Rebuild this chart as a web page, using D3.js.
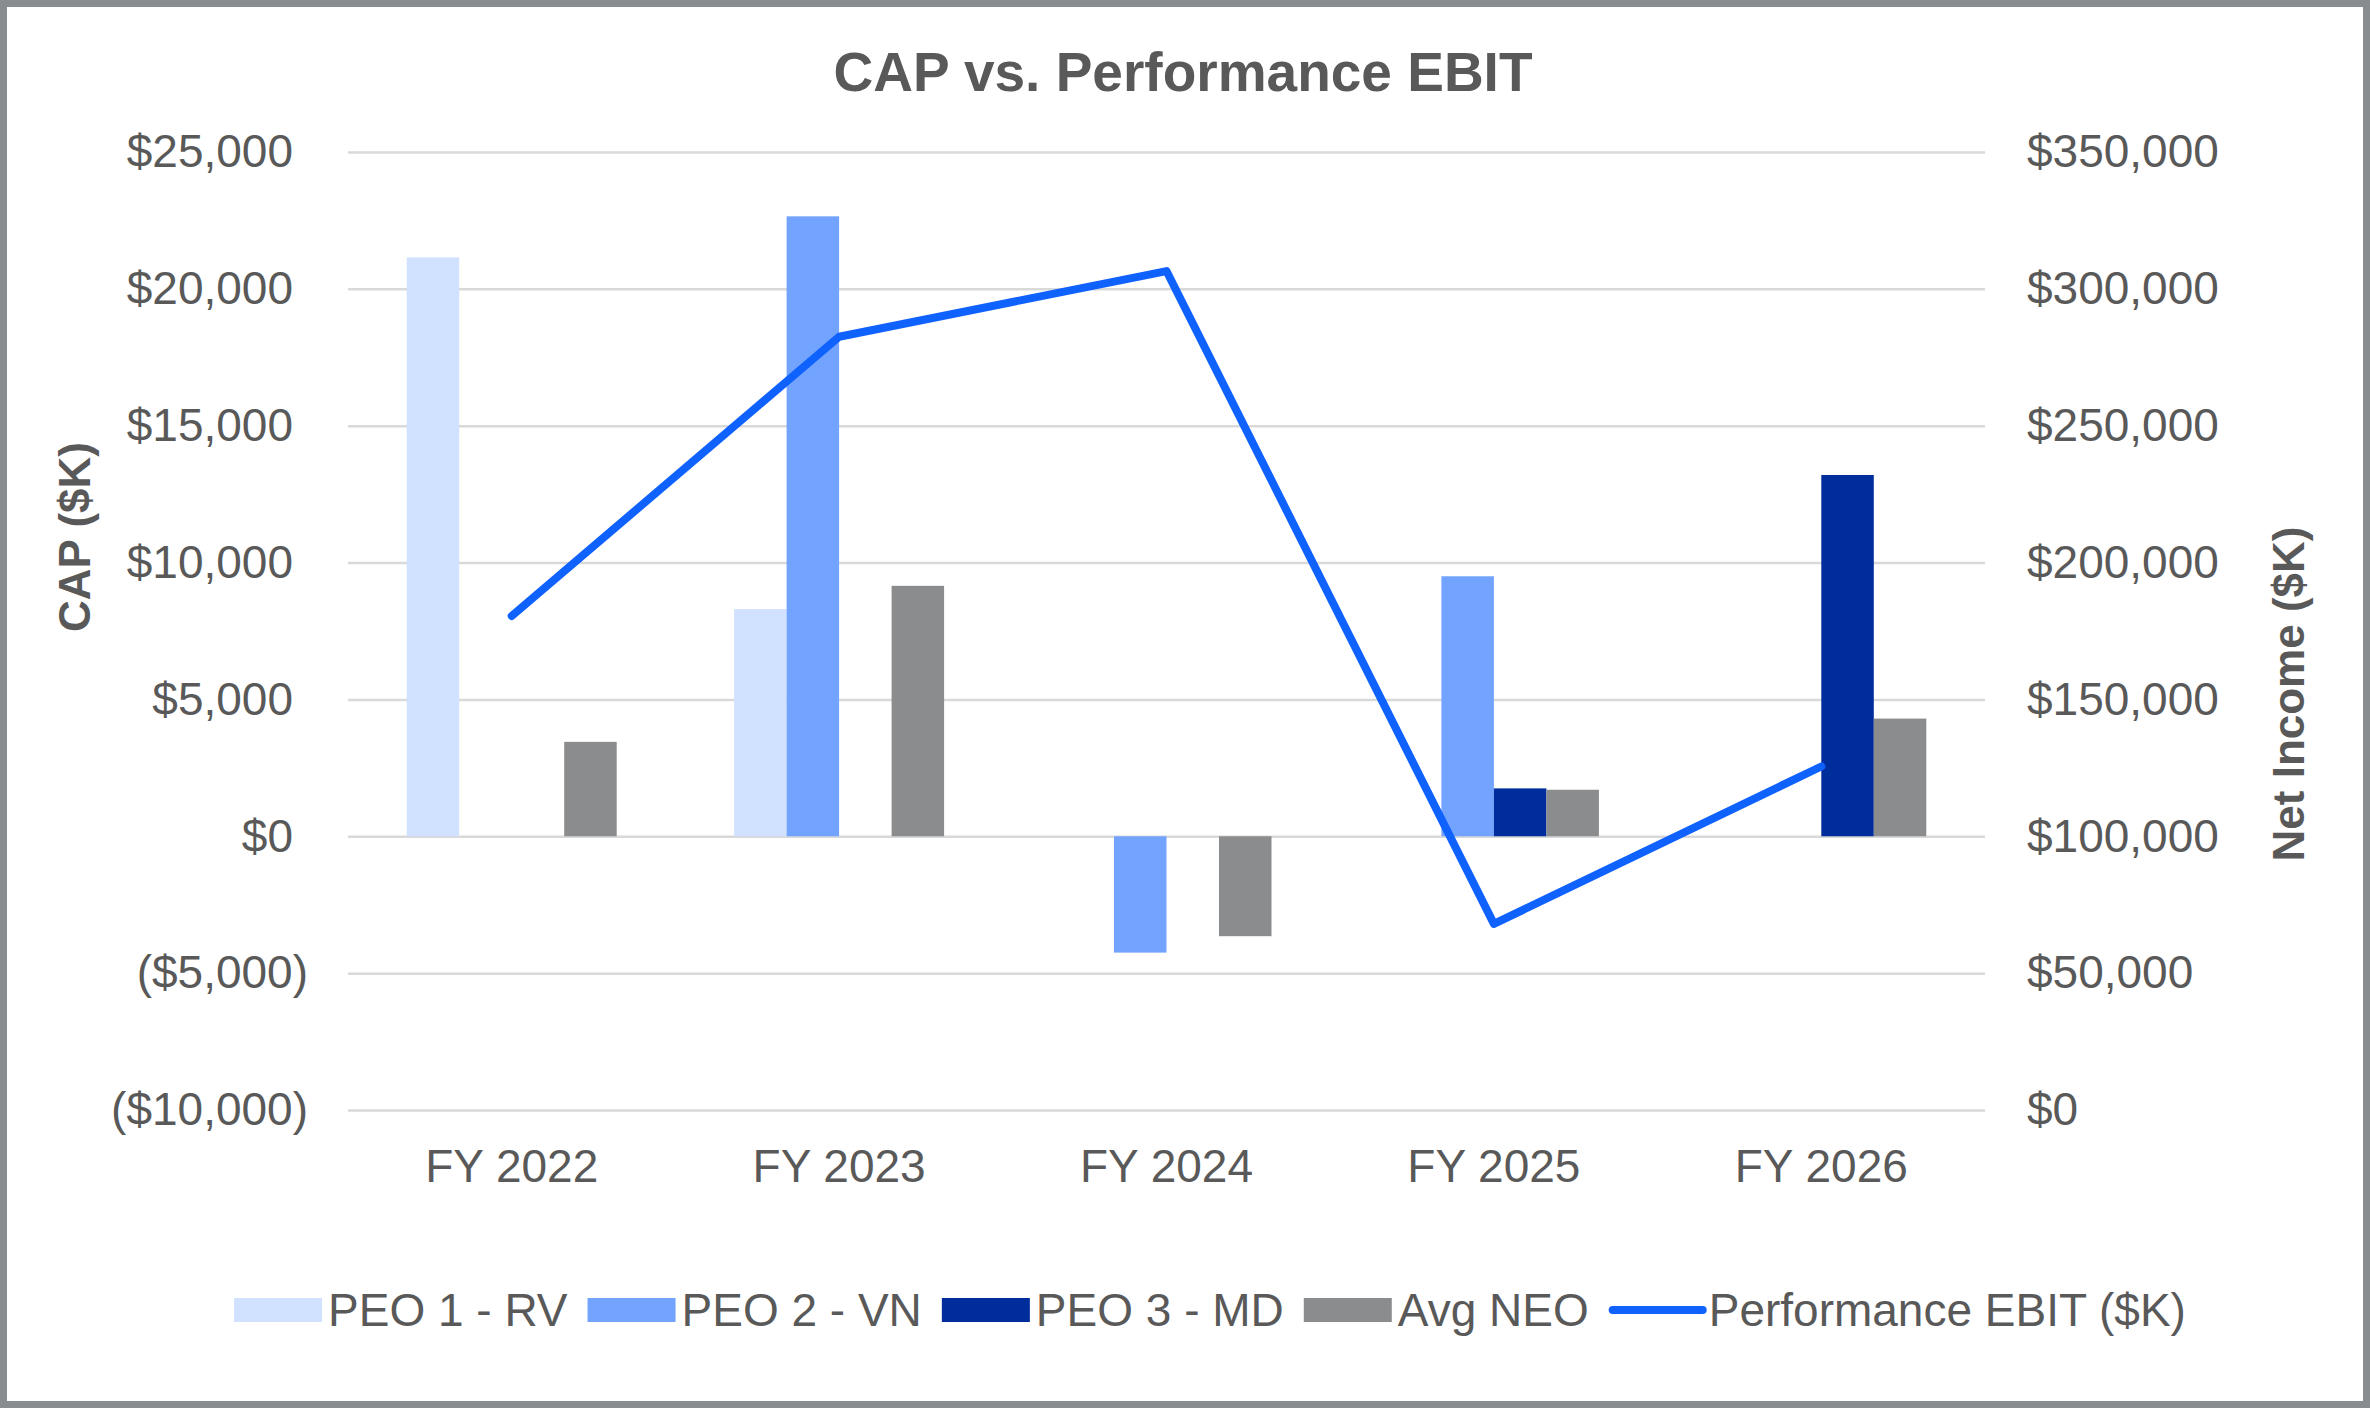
<!DOCTYPE html>
<html>
<head>
<meta charset="utf-8">
<script src="https://cdn.jsdelivr.net/npm/d3@7"></script>
<style>
	body { margin: 0; background: #fff; }
	text { font-family: "Liberation Sans", Arial, sans-serif; fill: #595959; }
</style>
</head>
<body>
<svg id="chart" width="2370" height="1408"></svg>
<script>
// data
var years = ['FY 2022', 'FY 2023', 'FY 2024', 'FY 2025', 'FY 2026'];
var seriesNames = ['PEO 1 - RV', 'PEO 2 - VN', 'PEO 3 - MD', 'Avg NEO'];
var peo1 = [21150, 8300, null, null, null];
var peo2 = [null, 22650, -4250, 9500, null];
var peo3 = [null, null, null, 1750, 13200];
var avgNeo = [3450, 9150, -3650, 1700, 4300];
var ebit = [180500, 282500, 306500, 68000, 125500];
var lineName = 'Performance EBIT ($K)';
var capTicks = [-10000, -5000, 0, 5000, 10000, 15000, 20000, 25000];
var incomeTicks = [0, 50000, 100000, 150000, 200000, 250000, 300000, 350000];

var colors = ['#d0e2ff', '#72a4ff', '#002d9c', '#8a8c8e'];
var lineColor = '#0f62fe';

var W = 2370, H = 1408;
var plot = { left: 348, right: 1985, top: 152, bottom: 1110 };
var fontSize = '46px';

var svg = d3.select('#chart');

// frame
svg.append('rect')
	.attr('x', 3.5).attr('y', 3.5)
	.attr('width', W - 7).attr('height', H - 7)
	.attr('fill', '#fff')
	.attr('stroke', '#898c8e')
	.attr('stroke-width', 7);

var x0 = d3.scaleBand().domain(years)
	.range([plot.left, plot.right])
	.paddingInner(0.3586).paddingOuter(0.1793);
var x1 = d3.scaleBand().domain(seriesNames).range([0, x0.bandwidth()]);
var yL = d3.scaleLinear().domain([-10000, 25000]).range([plot.bottom, plot.top]);
var yR = d3.scaleLinear().domain([0, 350000]).range([plot.bottom, plot.top]);

var money = d3.format(',');
var capFmt = function(d) { return d < 0 ? '($' + money(-d) + ')' : '$' + money(d); };
var incFmt = function(d) { return '$' + money(d); };

// gridlines
var grid = svg.append('g')
	.attr('transform', 'translate(' + plot.left + ',0)')
	.call(d3.axisLeft(yL).tickValues(capTicks).tickSize(-(plot.right - plot.left)).tickFormat(''));
grid.select('.domain').remove();
grid.selectAll('line').attr('stroke', '#d9d9d9').attr('stroke-width', 2.5);

// bars
var seriesValues = [peo1, peo2, peo3, avgNeo];
var barData = [];
seriesValues.forEach(function(vals, s) {
	vals.forEach(function(v, i) {
		if (v !== null) barData.push({ year: years[i], name: seriesNames[s], value: v, color: colors[s] });
	});
});

svg.append('g').selectAll('rect')
	.data(barData)
	.join('rect')
	.attr('x', function(d) { return x0(d.year) + x1(d.name); })
	.attr('width', x1.bandwidth())
	.attr('y', function(d) { return yL(Math.max(0, d.value)); })
	.attr('height', function(d) { return Math.abs(yL(d.value) - yL(0)); })
	.attr('fill', function(d) { return d.color; });

// line
var line = d3.line()
	.x(function(d, i) { return x0(years[i]) + x0.bandwidth() / 2; })
	.y(function(d) { return yR(d); });

svg.append('path')
	.datum(ebit)
	.attr('d', line)
	.attr('fill', 'none')
	.attr('stroke', lineColor)
	.attr('stroke-width', 8)
	.attr('stroke-linecap', 'round')
	.attr('stroke-linejoin', 'round');

// axes
var left = svg.append('g')
	.attr('transform', 'translate(' + plot.left + ',0)')
	.call(d3.axisLeft(yL).tickValues(capTicks).tickSize(0).tickPadding(40).tickFormat(capFmt));
left.select('.domain').remove();
left.selectAll('text')
	.style('font-size', fontSize)
	.attr('fill', '#595959')
	.attr('dx', function(d) { return d < 0 ? 0 : -15; });

var right = svg.append('g')
	.attr('transform', 'translate(' + plot.right + ',0)')
	.call(d3.axisRight(yR).tickValues(incomeTicks).tickSize(0).tickPadding(42).tickFormat(incFmt));
right.select('.domain').remove();
right.selectAll('text').style('font-size', fontSize).attr('fill', '#595959');

var bottom = svg.append('g')
	.attr('transform', 'translate(0,' + plot.bottom + ')')
	.call(d3.axisBottom(x0).tickSize(0).tickPadding(39));
bottom.select('.domain').remove();
bottom.selectAll('text').style('font-size', fontSize).attr('fill', '#595959');

// titles
svg.append('text')
	.attr('x', 1183).attr('y', 91)
	.attr('text-anchor', 'middle')
	.style('font-size', '55px').style('font-weight', 'bold')
	.text('CAP vs. Performance EBIT');

svg.append('text')
	.attr('transform', 'translate(75,537) rotate(-90)')
	.attr('text-anchor', 'middle').attr('dy', '0.35em')
	.style('font-size', '44px').style('font-weight', 'bold')
	.text('CAP ($K)');

svg.append('text')
	.attr('transform', 'translate(2289,694) rotate(-90)')
	.attr('text-anchor', 'middle').attr('dy', '0.35em')
	.style('font-size', '44px').style('font-weight', 'bold')
	.text('Net Income ($K)');

// legend
var legendItems = seriesNames.map(function(n, i) { return { name: n, color: colors[i], type: 'bar' }; });
legendItems.push({ name: lineName, color: lineColor, type: 'line' });

var legend = svg.append('g');
var ly = 1310, cursor = 0;
legendItems.forEach(function(item) {
	var g = legend.append('g').attr('transform', 'translate(' + cursor + ',0)');
	var textX = item.type === 'bar' ? 94 : 100;
	if (item.type === 'bar') {
		g.append('rect').attr('x', 0).attr('y', ly - 12).attr('width', 88).attr('height', 24).attr('fill', item.color);
	} else {
		g.append('line').attr('x1', 4).attr('x2', 94).attr('y1', ly).attr('y2', ly)
			.attr('stroke', item.color).attr('stroke-width', 8).attr('stroke-linecap', 'round');
	}
	var t = g.append('text').attr('x', textX).attr('y', ly).attr('dy', '0.35em')
		.style('font-size', fontSize).text(item.name);
	cursor += textX + t.node().getComputedTextLength() + 20;
});
var legendWidth = cursor - 20;
legend.attr('transform', 'translate(' + (1210 - legendWidth / 2) + ',0)');
</script>
</body>
</html>
